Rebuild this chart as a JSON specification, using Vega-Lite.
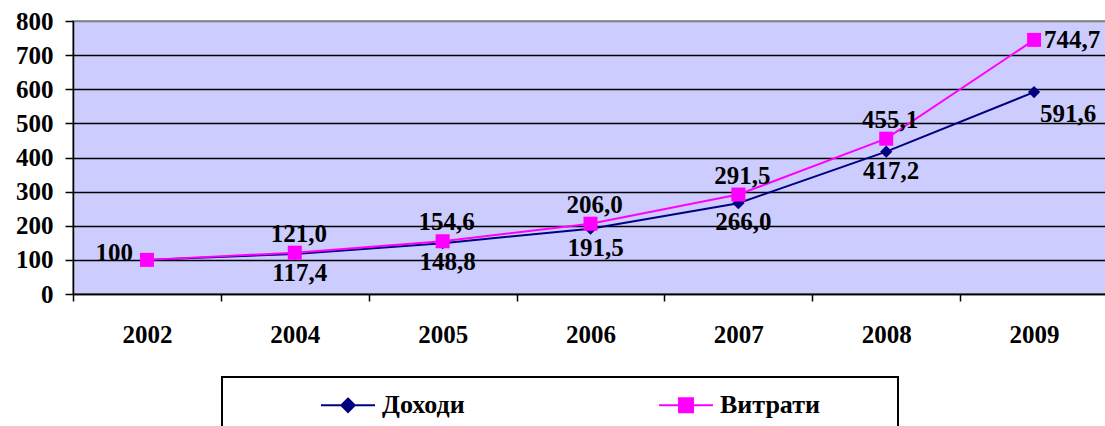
{
  "$schema": "https://vega.github.io/schema/vega-lite/v6.json",
  "width": 1035,
  "height": 273,
  "autosize": "none",
  "padding": {"left": 73, "top": 21, "right": 0, "bottom": 140},
  "background": "white",
  "config": {
    "font": "Liberation Serif",
    "view": {"fill": "#CCCCFF", "stroke": "#808080", "strokeWidth": 1.5}
  },
  "data": {
    "values": [
      {"year": "2002", "series": "Доходи", "value": 100, "label": "100"},
      {"year": "2004", "series": "Доходи", "value": 117.4, "label": "117,4"},
      {"year": "2005", "series": "Доходи", "value": 148.8, "label": "148,8"},
      {"year": "2006", "series": "Доходи", "value": 191.5, "label": "191,5"},
      {"year": "2007", "series": "Доходи", "value": 266.0, "label": "266,0"},
      {"year": "2008", "series": "Доходи", "value": 417.2, "label": "417,2"},
      {"year": "2009", "series": "Доходи", "value": 591.6, "label": "591,6"},
      {"year": "2002", "series": "Витрати", "value": 100, "label": "100"},
      {"year": "2004", "series": "Витрати", "value": 121.0, "label": "121,0"},
      {"year": "2005", "series": "Витрати", "value": 154.6, "label": "154,6"},
      {"year": "2006", "series": "Витрати", "value": 206.0, "label": "206,0"},
      {"year": "2007", "series": "Витрати", "value": 291.5, "label": "291,5"},
      {"year": "2008", "series": "Витрати", "value": 455.1, "label": "455,1"},
      {"year": "2009", "series": "Витрати", "value": 744.7, "label": "744,7"}
    ]
  },
  "encoding": {
    "x": {
      "field": "year",
      "type": "ordinal",
      "scale": {"type": "band", "paddingInner": 0, "paddingOuter": 0},
      "axis": {
        "title": null,
        "labelAngle": 0,
        "labelFontSize": 25,
        "labelFontWeight": "bold",
        "labelColor": "black",
        "labelPadding": 21,
        "labelBaseline": "top",
        "tickBand": "extent",
        "tickSize": 7,
        "tickColor": "black",
        "tickWidth": 1.5,
        "domainColor": "black",
        "domainWidth": 1.5,
        "grid": false
      }
    },
    "y": {
      "field": "value",
      "type": "quantitative",
      "scale": {"domain": [0, 800], "nice": false},
      "axis": {
        "title": null,
        "values": [0, 100, 200, 300, 400, 500, 600, 700, 800],
        "labelFontSize": 25,
        "labelFontWeight": "bold",
        "labelColor": "black",
        "labelPadding": 12,
        "tickSize": 8,
        "tickColor": "black",
        "tickWidth": 1.5,
        "domainColor": "black",
        "domainWidth": 1.5,
        "grid": true,
        "gridColor": {"condition": {"test": "datum.value == 800", "value": "#808080"}, "value": "black"},
        "gridWidth": 1.5
      }
    }
  },
  "layer": [
    {
      "mark": {"type": "line", "strokeWidth": 2},
      "encoding": {
        "color": {
          "field": "series",
          "type": "nominal",
          "sort": ["Доходи", "Витрати"],
          "scale": {"domain": ["Доходи", "Витрати"], "range": ["#000080", "#FF00FF"]},
          "legend": {
            "orient": "none",
            "legendX": 149,
            "legendY": 356,
            "direction": "horizontal",
            "columns": 2,
            "title": "\u00a0\u200b",
            "titleOrient": "left",
            "titleFontSize": 2,
            "titlePadding": 98,
            "padding": 0,
            "strokeColor": "black",
            "fillColor": "white",
            "labelFont": "Liberation Serif",
            "labelFontSize": 26,
            "labelFontWeight": "bold",
            "labelColor": "black",
            "labelOffset": 6,
            "labelLimit": 400,
            "symbolSize": 2916,
            "symbolType": "stroke",
            "columnPadding": 190,
            "labelExpr": "datum.label == 'Витрати' ? datum.label + '\u00a0\u00a0\u00a0\u00a0\u00a0\u00a0\u00a0\u00a0\u00a0\u00a0\u00a0\u00a0\u200b' : datum.label",
            "encode": {
              "legend": {"update": {"strokeWidth": {"value": 2}}},
              "symbols": {
                "update": {
                  "shape": {"signal": "datum.value === 'Доходи' ? 'M0,1.2M-1,0L1,0M0,-0.25L0.25,0L0,0.25L-0.25,0Z' : 'M0,1.2M-1,0L1,0M-0.26,-0.26L0.26,-0.26L0.26,0.26L-0.26,0.26Z'"},
                  "fill": {"scale": "color", "field": "value"},
                  "stroke": {"scale": "color", "field": "value"},
                  "strokeWidth": {"value": 2},
                  "opacity": {"value": 1}
                }
              }
            }
          }
        }
      }
    },
    {
      "transform": [{"filter": "datum.series == 'Доходи'"}],
      "mark": {"type": "point", "filled": true, "opacity": 1, "shape": "diamond", "size": 150, "color": "#000080"}
    },
    {
      "transform": [{"filter": "datum.series == 'Витрати'"}],
      "mark": {"type": "point", "filled": true, "opacity": 1, "shape": "square", "size": 196, "color": "#FF00FF"}
    },
    {
      "transform": [{"filter": "datum.series == 'Доходи' && datum.year != '2002' && datum.year != '2009'"}],
      "mark": {"type": "text", "baseline": "top", "dy": 7, "dx": 5, "fontSize": 25, "fontWeight": "bold", "color": "black"},
      "encoding": {"text": {"field": "label"}}
    },
    {
      "transform": [{"filter": "datum.series == 'Витрати' && datum.year != '2002' && datum.year != '2009'"}],
      "mark": {"type": "text", "baseline": "alphabetic", "dy": -11, "dx": 4, "fontSize": 25, "fontWeight": "bold", "color": "black"},
      "encoding": {"text": {"field": "label"}}
    },
    {
      "transform": [{"filter": "datum.series == 'Доходи' && datum.year == '2002'"}],
      "mark": {"type": "text", "align": "right", "baseline": "middle", "dx": -14, "dy": -7, "fontSize": 25, "fontWeight": "bold", "color": "black"},
      "encoding": {"text": {"field": "label"}}
    },
    {
      "transform": [{"filter": "datum.series == 'Доходи' && datum.year == '2009'"}],
      "mark": {"type": "text", "align": "left", "baseline": "top", "dx": 6, "dy": 10, "fontSize": 25, "fontWeight": "bold", "color": "black"},
      "encoding": {"text": {"field": "label"}}
    },
    {
      "transform": [{"filter": "datum.series == 'Витрати' && datum.year == '2009'"}],
      "mark": {"type": "text", "align": "left", "baseline": "middle", "dx": 10, "dy": 0, "fontSize": 25, "fontWeight": "bold", "color": "black"},
      "encoding": {"text": {"field": "label"}}
    }
  ]
}
